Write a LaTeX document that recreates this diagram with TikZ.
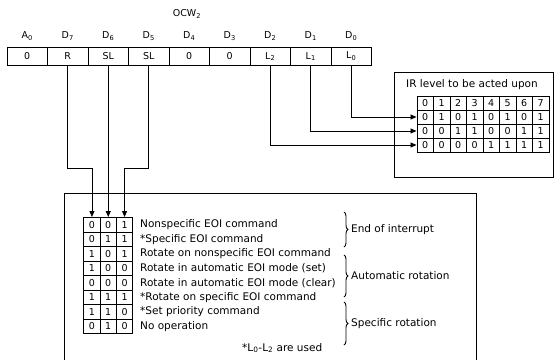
\documentclass[tikz,border=0pt]{standalone}
\usepackage{fontspec}
\setmainfont{DejaVu Sans}
\usetikzlibrary{arrows.meta,decorations.pathreplacing}
\begin{document}
\begin{tikzpicture}[x=1pt,y=-1pt,
  reg/.style={draw,line width=1pt,minimum width=40.5pt,minimum height=18pt,inner sep=0pt,font=\fontsize{9.5}{10}\selectfont},
  lab/.style={inner sep=0pt,font=\fontsize{9.5}{10}\selectfont},
  bit/.style={draw,line width=1pt,minimum width=16.3pt,minimum height=14.5pt,inner sep=0pt,font=\fontsize{9.5}{10}\selectfont},
  irbit/.style={draw,line width=1pt,minimum width=16.5pt,minimum height=14pt,inner sep=0pt,font=\fontsize{9.5}{10}\selectfont},
  rowtxt/.style={anchor=west,inner sep=0pt,font=\fontsize{10.5}{11}\selectfont},
  arr/.style={line width=0.9pt,-{Triangle[length=6pt,width=5pt]}},
  frame/.style={line width=1pt},
  brc/.style={decorate,decoration={brace,amplitude=4pt},line width=0.9pt}
]
\useasboundingbox (0,0) rectangle (554,359);
% title
\node[lab] (title) at (187,14) {OCW\textsubscript{2}};
% register
\foreach \i/\h/\v in {0/A\textsubscript{0}/0,1/D\textsubscript{7}/R,2/D\textsubscript{6}/SL,3/D\textsubscript{5}/SL,4/D\textsubscript{4}/0,5/D\textsubscript{3}/0,6/D\textsubscript{2}/L\textsubscript{2},7/D\textsubscript{1}/L\textsubscript{1},8/D\textsubscript{0}/L\textsubscript{0}}{
  \node[reg] (c\i) at ({7+40.5*(\i+0.5)},56.5) {\v};
  \node[lab] (d\i) at ({7+40.5*(\i+0.5)},36) {\h};
}
% IR box
\coordinate (irtl) at (394,72);
\coordinate (irbr) at (553,177);
\draw[frame] (irtl) rectangle (irbr);
\node[rowtxt] (irt) at (406,85) {IR level to be acted upon};
\foreach \c/\p/\q/\s in {0/0/0/0,1/1/0/0,2/0/1/0,3/1/1/0,4/0/0/1,5/1/0/1,6/0/1/1,7/1/1/1}{
  \node[irbit] (h\c) at ({417+16.5*(\c+0.5)},103) {\c};
  \node[irbit] (p\c) at ({417+16.5*(\c+0.5)},117) {\p};
  \node[irbit] (q\c) at ({417+16.5*(\c+0.5)},131) {\q};
  \node[irbit] (s\c) at ({417+16.5*(\c+0.5)},145) {\s};
}
\draw[arr] (c8.south) |- (p0.west);
\draw[arr] (c7.south) |- (q0.west);
\draw[arr] (c6.south) |- (s0.west);
% lower box
\coordinate (lb1) at (64,360);
\coordinate (lb2) at (64,193);
\coordinate (lb3) at (476,193);
\coordinate (lb4) at (476,360);
\draw[frame] (lb1) -- (lb2) -- (lb3) -- (lb4);
\foreach \r/\a/\b/\c/\t in {1/0/0/1/Nonspecific EOI command,2/0/1/1/*Specific EOI command,3/1/0/1/Rotate on nonspecific EOI command,4/1/0/0/Rotate in automatic EOI mode (set),5/0/0/0/Rotate in automatic EOI mode (clear),6/1/1/1/*Rotate on specific EOI command,7/1/1/0/*Set priority command,8/0/1/0/No operation}{
  \node[bit] (b\r-1) at (91.95,{217.5+14.5*(\r-0.5)}) {\a};
  \node[bit] (b\r-2) at (108.25,{217.5+14.5*(\r-0.5)}) {\b};
  \node[bit] (b\r-3) at (124.55,{217.5+14.5*(\r-0.5)}) {\c};
  \node[rowtxt] (t\r) at (140,{217.5+14.5*(\r-0.5)}) {\t};
}
\node[rowtxt] (foot) at (242,348) {*L\textsubscript{0}-L\textsubscript{2} are used};
% connectors from register to table
\coordinate (j1) at (91.95,168);
\coordinate (j3) at (124.55,168);
\draw[arr] (c1.south) |- (j1) -- (b1-1.north);
\draw[arr] (c2.south) -- (b1-2.north);
\draw[arr] (c3.south) |- (j3) -- (b1-3.north);
% braces
\coordinate (br1a) at (344,212); \coordinate (br1b) at (344,247);
\coordinate (br2a) at (344,255); \coordinate (br2b) at (344,297);
\coordinate (br3a) at (344,302); \coordinate (br3b) at (344,345);
\draw[brc] (br1a) -- (br1b);
\draw[brc] (br2a) -- (br2b);
\draw[brc] (br3a) -- (br3b);
\node[rowtxt] (g1) at (351,229.5) {End of interrupt};
\node[rowtxt] (g2) at (351,276) {Automatic rotation};
\node[rowtxt] (g3) at (351,323.5) {Specific rotation};
\end{tikzpicture}
\end{document}
